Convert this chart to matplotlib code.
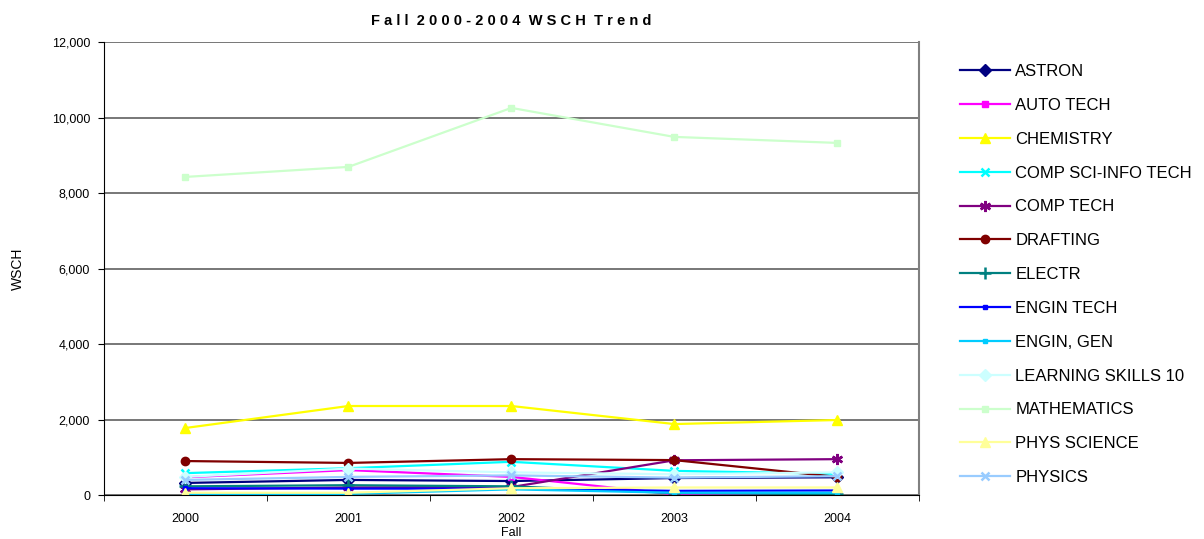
import matplotlib
matplotlib.use('Agg')
from matplotlib import pyplot as plt
from matplotlib.ticker import FuncFormatter

plt.rcParams['font.family'] = ['Liberation Sans', 'DejaVu Sans']

years = ['2000', '2001', '2002', '2003', '2004']

astron = [320, 400, 370, 450, 470]
auto_tech = [470, 660, 480, 20, 10]
chemistry = [1776, 2358, 2358, 1880, 1987]
comp_sci = [580, 710, 880, 640, 560]
comp_tech = [150, 200, 210, 920, 950]
drafting = [900, 850, 950, 925, 480]
electr = [230, 260, 230, 50, 20]
engin_tech = [180, 170, 170, 110, 120]
engin_gen = [30, 30, 150, 60, 60]
learning = [480, 700, 600, 550, 600]
mathematics = [8427, 8692, 10255, 9487, 9328]
phys_sci = [60, 60, 180, 200, 200]
physics = [400, 480, 520, 460, 500]

series = [
    ('ASTRON', astron, '#000080', 'D', 6),
    ('AUTO TECH', auto_tech, '#FF00FF', 's', 5),
    ('CHEMISTRY', chemistry, '#FFFF00', '^', 7),
    ('COMP SCI-INFO TECH', comp_sci, '#00FFFF', 'x', 6),
    ('COMP TECH', comp_tech, '#800080', (6, 2, 0), 8),
    ('DRAFTING', drafting, '#800000', 'o', 6),
    ('ELECTR', electr, '#008080', '+', 9),
    ('ENGIN TECH', engin_tech, '#0000FF', 's', 3),
    ('ENGIN, GEN', engin_gen, '#00CCFF', 's', 3),
    ('LEARNING SKILLS 10', learning, '#CCFFFF', 'D', 6),
    ('MATHEMATICS', mathematics, '#CCFFCC', 's', 5),
    ('PHYS SCIENCE', phys_sci, '#FFFF99', '^', 7),
    ('PHYSICS', physics, '#99CCFF', 'x', 6),
]

fig = plt.figure(figsize=(12.04, 5.39), dpi=100)
ax = fig.add_axes([0.0864, 0.0816, 0.6766, 0.8404])

x = list(range(len(years)))
for name, vals, col, mk, ms in series:
    ax.plot(x, vals, color=col, marker=mk, markersize=ms, linewidth=1.6,
            markeredgewidth=1.8 if mk in ('x', '+', (6, 2, 0)) else 1,
            markeredgecolor=col, label=name)

ax.set_xlim(-0.5, len(years) - 0.5)
ax.set_ylim(0, 12000)
ax.set_yticks(range(0, 12001, 2000))
ax.yaxis.set_major_formatter(FuncFormatter(lambda v, p: '{:,.0f}'.format(v)))
ax.set_xticks(x)
ax.set_xticklabels(years)
ax.set_xticks([i - 0.5 for i in range(len(years) + 1)], minor=True)
ax.tick_params(axis='x', which='major', length=0, labelsize=9, pad=13)
ax.tick_params(axis='x', which='minor', length=4, direction='out', color='black')
ax.tick_params(axis='y', labelsize=9, length=4, direction='out', color='black', pad=6)

ax.grid(axis='y', color='#606060', linewidth=1.2)
ax.set_axisbelow(True)
ax.spines['top'].set_visible(False)
ax.spines['right'].set_color('#808080')
ax.spines['right'].set_linewidth(1.5)
ax.spines['left'].set_color('black')
ax.spines['bottom'].set_color('black')

fig.text(18 / 1204, 1 - 269 / 539, 'WSCH', fontsize=10, rotation=90,
         ha='center', va='center')
fig.text(511 / 1204, 1 - 533 / 539, 'Fall', fontsize=9, ha='center', va='center')
ax.set_title('F a l l  2 0 0 0 - 2 0 0 4  W S C H  T r e n d', fontsize=10.5,
             fontweight='bold', pad=12)

fig.legend(loc='upper left', bbox_to_anchor=(0.785, 0.909), frameon=False,
           fontsize=12, labelspacing=1.13, handlelength=3.0, handletextpad=0.3)

fig.savefig('out.png', dpi=100)
